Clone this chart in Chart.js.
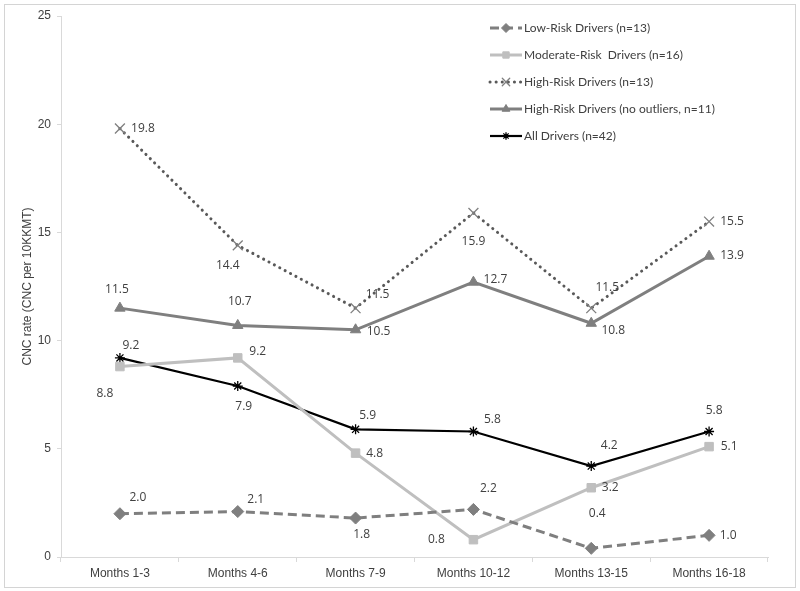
<!DOCTYPE html>
<html>
<head>
<meta charset="utf-8">
<script src="https://cdn.jsdelivr.net/npm/chart.js@4.4.1/dist/chart.umd.min.js"></script>
<style>
  body { margin: 0; background: #fff; }
  #wrap { position: relative; width: 800px; height: 591px; }
  #frame { position: absolute; left: 4px; top: 4px; width: 790px; height: 582px; border: 1px solid #d4d4d4; pointer-events: none; }
</style>
</head>
<body>
<div id="wrap">
  <canvas id="cncChart" width="800" height="591"></canvas>
  <div id="frame"></div>
</div>
<script>
// datos
var meses = ['Months 1-3', 'Months 4-6', 'Months 7-9', 'Months 10-12', 'Months 13-15', 'Months 16-18'];
var bajoRiesgo = [2.0, 2.1, 1.8, 2.2, 0.4, 1.0];
var riesgoModerado = [8.8, 9.2, 4.8, 0.8, 3.2, 5.1];
var altoRiesgo = [19.8, 14.4, 11.5, 15.9, 11.5, 15.5];
var altoSinAtipicos = [11.5, 10.7, 10.5, 12.7, 10.8, 13.9];
var todos = [9.2, 7.9, 5.9, 5.8, 4.2, 5.8];
var ticksY = [0, 5, 10, 15, 20, 25];

// desplazamiento de las etiquetas (px) respecto al punto
var offsets = [
  [[18, -16], [18, -12], [6, 17], [15, -21], [6, -35], [19, 0]],
  [[-15, 27], [20, -6], [19, 0], [-37, 0], [19, 0], [20, 0]],
  [[23, 0], [-10, 20], [22, -14], [0, 29], [16, -21], [23, 0]],
  [[-3, -19], [2, -24], [23, 2], [22, -3], [22, 7], [23, -1]],
  [[11, -12], [6, 21], [12, -14], [19, -12], [18, -21], [5, -21]]
];

var etiquetasPlugin = {
  id: 'etiquetas',
  afterDatasetsDraw: function(chart) {
    var ctx = chart.ctx;
    ctx.save();
    ctx.font = '12px "Open Sans", sans-serif';
    ctx.fillStyle = '#404040';
    ctx.textAlign = 'center';
    ctx.textBaseline = 'middle';
    chart.data.datasets.forEach(function(ds, i) {
      chart.getDatasetMeta(i).data.forEach(function(pt, j) {
        var o = offsets[i][j];
        ctx.fillText(ds.data[j].toFixed(1), pt.x + o[0], pt.y + o[1]);
      });
    });
    ctx.restore();
  }
};

// leyenda con linea + marcador como en Excel
var leyendaPlugin = {
  id: 'leyendaExcel',
  afterDraw: function(chart) {
    var ctx = chart.ctx;
    var x0 = 490, y0 = 28, paso = 27;
    ctx.save();
    chart.data.datasets.forEach(function(ds, i) {
      var y = y0 + i * paso;
      ctx.strokeStyle = ds.borderColor;
      ctx.lineWidth = Math.min(ds.borderWidth, 3);
      ctx.lineCap = ds.borderCapStyle || 'butt';
      ctx.setLineDash(ds.borderDash || []);
      ctx.beginPath();
      ctx.moveTo(x0, y);
      ctx.lineTo(x0 + 32, y);
      ctx.stroke();
      ctx.setLineDash([]);
      ctx.fillStyle = ds.pointBackgroundColor;
      ctx.strokeStyle = ds.pointBorderColor;
      ctx.lineWidth = ds.pointBorderWidth;
      Chart.helpers.drawPoint(ctx, {
        pointStyle: ds.pointStyle,
        radius: ds.pointRadius * 0.75,
        borderWidth: ds.pointBorderWidth,
        rotation: 0
      }, x0 + 16, y);
      ctx.fillStyle = '#404040';
      ctx.font = '12px Lato, sans-serif';
      ctx.textBaseline = 'middle';
      ctx.fillText(ds.label, x0 + 34, y);
    });
    ctx.restore();
  }
};

document.addEventListener('DOMContentLoaded', function() {
  var chart = new Chart(document.getElementById('cncChart'), {
    type: 'line',
    data: {
      labels: meses,
      datasets: [{
        label: 'Low-Risk Drivers (n=13)',
        data: bajoRiesgo,
        borderColor: '#7f7f7f',
        borderWidth: 3,
        borderDash: [9, 5],
        pointStyle: 'rectRot',
        pointRadius: 6,
        pointBackgroundColor: '#7f7f7f',
        pointBorderColor: '#7f7f7f',
        pointBorderWidth: 1
      }, {
        label: 'Moderate-Risk  Drivers (n=16)',
        data: riesgoModerado,
        borderColor: '#bfbfbf',
        borderWidth: 3,
        pointStyle: 'rect',
        pointRadius: 6,
        pointBackgroundColor: '#bfbfbf',
        pointBorderColor: '#bfbfbf',
        pointBorderWidth: 1
      }, {
        label: 'High-Risk Drivers (n=13)',
        data: altoRiesgo,
        borderColor: '#595959',
        borderWidth: 3,
        borderDash: [0.1, 6],
        borderCapStyle: 'round',
        pointStyle: 'crossRot',
        pointRadius: 7,
        pointBackgroundColor: '#7f7f7f',
        pointBorderColor: '#7f7f7f',
        pointBorderWidth: 1.3
      }, {
        label: 'High-Risk Drivers (no outliers, n=11)',
        data: altoSinAtipicos,
        borderColor: '#7f7f7f',
        borderWidth: 3,
        pointStyle: 'triangle',
        pointRadius: 6,
        pointBackgroundColor: '#7f7f7f',
        pointBorderColor: '#7f7f7f',
        pointBorderWidth: 1
      }, {
        label: 'All Drivers (n=42)',
        data: todos,
        borderColor: '#000000',
        borderWidth: 2.2,
        pointStyle: 'star',
        pointRadius: 5,
        pointBackgroundColor: '#000000',
        pointBorderColor: '#000000',
        pointBorderWidth: 1.3
      }]
    },
    options: {
      responsive: false,
      animation: false,
      layout: { padding: { top: 16, right: 32, left: 0, bottom: 0 } },
      plugins: {
        legend: { display: false },
        tooltip: { enabled: false }
      },
      elements: { line: { tension: 0 } },
      scales: {
        x: {
          offset: true,
          grid: { offset: true, drawOnChartArea: false, drawTicks: true, tickLength: 5, color: '#d9d9d9' },
          border: { display: true, color: '#d9d9d9' },
          ticks: { color: '#404040', font: { family: '"Liberation Sans Narrow", "Liberation Sans", sans-serif', size: 12 }, padding: 4, maxRotation: 0 },
          afterFit: function(s) { s.height = 34; }
        },
        y: {
          min: 0,
          max: 25,
          afterBuildTicks: function(s) { s.ticks = ticksY.map(function(v) { return { value: v }; }); },
          grid: { drawOnChartArea: false, drawTicks: true, tickLength: 4, color: '#d9d9d9' },
          border: { display: true, color: '#d9d9d9' },
          ticks: { color: '#404040', font: { family: '"Liberation Sans Narrow", "Liberation Sans", sans-serif', size: 12 }, padding: 6 },
          title: { display: true, text: 'CNC rate (CNC per 10KKMT)', color: '#404040', font: { family: '"Liberation Sans Narrow", "Liberation Sans", sans-serif', size: 12 }, padding: { top: 20, bottom: 0 } },
          afterFit: function(s) { s.width = 61; }
        }
      }
    },
    plugins: [etiquetasPlugin, leyendaPlugin]
  });
});
</script>
</body>
</html>
